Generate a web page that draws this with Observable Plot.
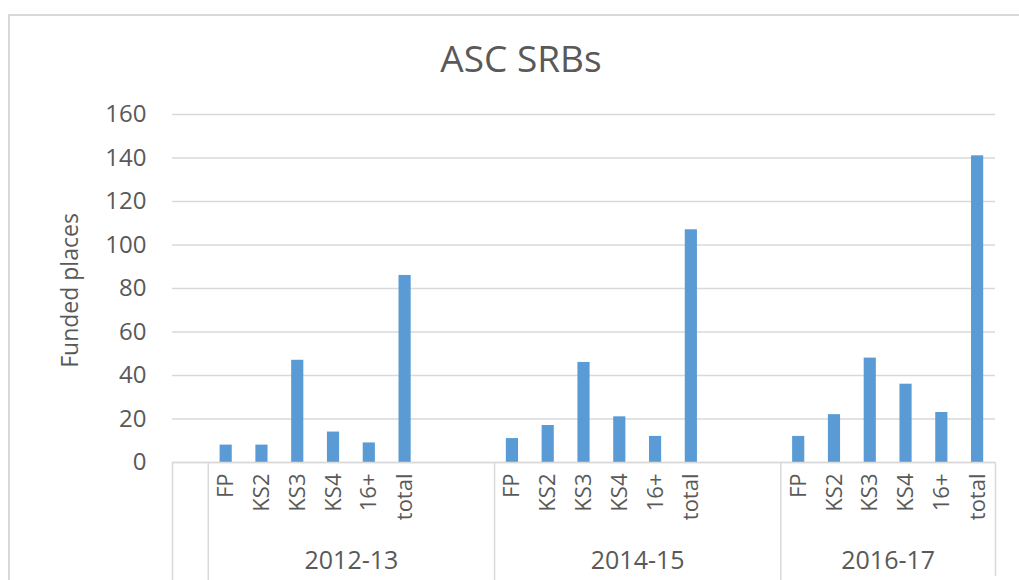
<!DOCTYPE html>
<html>
<head>
<meta charset="utf-8">
<script src="https://cdn.jsdelivr.net/npm/d3@7"></script>
<script src="https://cdn.jsdelivr.net/npm/@observablehq/plot@0.6"></script>
<style>
  html, body { margin: 0; padding: 0; background: #fff; }
  #wrap { position: relative; width: 1019px; height: 580px; overflow: hidden; font-family: "Open Sans", sans-serif; }
  #frame { position: absolute; left: 8px; top: 14px; width: 1040px; height: 600px; border: 2px solid #d9d9d9; box-sizing: border-box; }
  #title { position: absolute; left: 521px; top: 36px; transform: translateX(-50%); font-size: 37px; color: #595959; white-space: nowrap; line-height: 1.2; }
  #chart { position: absolute; left: 0; top: 0; }
</style>
</head>
<body>
<div id="wrap">
  <div id="frame"></div>
  <div id="title">ASC SRBs</div>
  <div id="chart"></div>
</div>
<script>
// ---- data ----
const chartTitle = "ASC SRBs";
const yLabel = "Funded places";
const periods = ["2012-13", "2014-15", "2016-17"];
const stages = ["FP", "KS2", "KS3", "KS4", "16+", "total"];
const places2012 = [8, 8, 47, 14, 9, 86];
const places2014 = [11, 17, 46, 21, 12, 107];
const places2016 = [12, 22, 48, 36, 23, 141];
const emptyBefore = 1;            // empty category slots before the first period
const emptyAfter = [2, 2, 0];     // empty category slots after each period
const yTicks = [0, 20, 40, 60, 80, 100, 120, 140, 160];

// ---- build table ----
const series = [places2012, places2014, places2016];
const domain = [];
for (let i = 0; i < emptyBefore; i++) domain.push("lead|" + i);
const rows = [];
periods.forEach((p, pi) => {
  stages.forEach((s, si) => {
    const key = p + "|" + s;
    domain.push(key);
    rows.push({key, period: p, stage: s, value: series[pi][si]});
  });
  for (let i = 0; i < emptyAfter[pi]; i++) domain.push(p + "|blank" + i);
});
const stageKeys = rows.map(d => d.key);
const groupStartKeys = ["lead|0", ...periods.map(p => p + "|" + stages[0])];
const lastKey = periods[periods.length - 1] + "|" + stages[stages.length - 1];
// label anchor: the slot left of each period's centre line
const groupMidKeys = periods.map((p, pi) => {
  const n = stages.length + emptyAfter[pi];
  const idx = n / 2 - 1;
  return idx < stages.length ? p + "|" + stages[idx] : p + "|blank" + (idx - stages.length);
});

const W = 1019, H = 580, ML = 172, MR = 24, MT = 114, MB = 118;
const step = (W - ML - MR) / domain.length;
const grey = "#d9d9d9", txt = "#595959";

const chart = Plot.plot({
  width: W, height: H,
  marginLeft: ML, marginRight: MR, marginTop: MT, marginBottom: MB,
  style: {fontFamily: "'Open Sans', sans-serif", color: txt, background: "transparent", overflow: "visible"},
  x: {type: "band", domain, paddingInner: 0.66, paddingOuter: 0.33, round: false, axis: null},
  y: {domain: [0, 160], axis: null},
  marks: [
    Plot.gridY(yTicks, {stroke: grey, strokeOpacity: 1, strokeWidth: 1.5}),
    Plot.axisY(yTicks, {tickSize: 0, tickPadding: 26, fontSize: 24, label: null, fill: txt}),
    Plot.barY(rows, {x: "key", y: "value", fill: "#5b9bd5"}),
    Plot.ruleY([0], {stroke: grey, strokeWidth: 1.5}),
    Plot.axisX({ticks: stageKeys, tickFormat: k => k.split("|")[1], tickRotate: -90, tickSize: 0, tickPadding: 11, fontSize: 22, label: null, fill: txt}),
    Plot.axisX({ticks: groupStartKeys, tickFormat: () => "", tickSize: MB, dx: -step / 2, stroke: grey, strokeWidth: 1.5, label: null}),
    Plot.axisX({ticks: [lastKey], tickFormat: () => "", tickSize: MB - 4, dx: step / 2, stroke: grey, strokeWidth: 1.5, label: null}),
    Plot.axisX({ticks: groupMidKeys, tickFormat: k => k.split("|")[0], tickSize: 0, tickPadding: 89, dx: step / 2, fontSize: 25, label: null, fill: txt}),
    Plot.text([yLabel], {frameAnchor: "left", rotate: -90, dx: -102, dy: 2, textAnchor: "middle", fontSize: 23, fill: txt})
  ]
});
document.getElementById("chart").appendChild(chart);
document.getElementById("title").textContent = chartTitle;
</script>
</body>
</html>
